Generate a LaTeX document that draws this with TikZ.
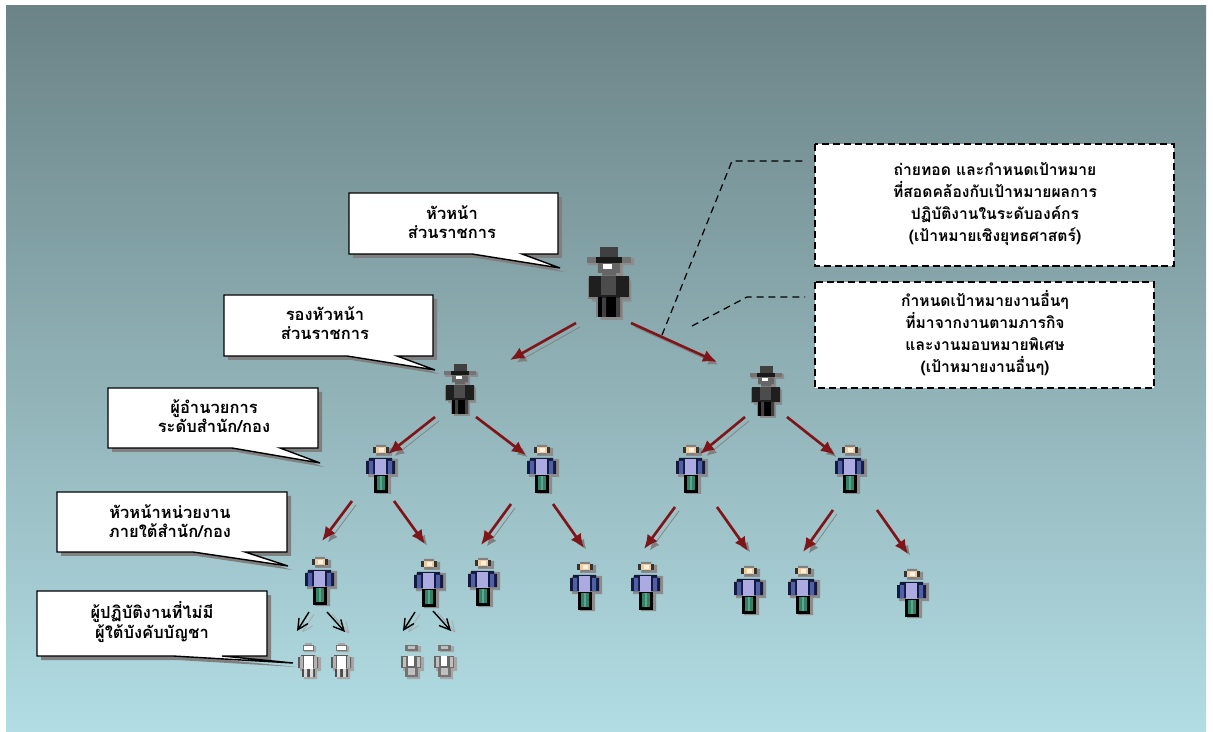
\documentclass[tikz,border=0pt]{standalone}
\usepackage{fontspec}
\newfontfamily\thaifont[Script=Thai]{Loma}
\usetikzlibrary{arrows.meta}
\definecolor{skytop}{HTML}{6B8386}
\definecolor{skybot}{HTML}{B2DDE4}
\definecolor{darkred}{HTML}{7F1519}
\definecolor{shirt}{HTML}{5060A8}
\definecolor{shirtlt}{HTML}{ABABE2}
\definecolor{navy}{HTML}{141A3C}
\definecolor{trouser}{HTML}{2F8468}
\definecolor{skin}{HTML}{EFCD9C}
\tikzset{
  redarrow/.style={draw=darkred, line width=1.5pt, -{Latex[length=8pt,width=7pt]},
    preaction={draw=black!50, transform canvas={shift={(4,4)}}}},
  blackarrow/.style={draw=black, line width=0.8pt, -{Straight Barb[length=6pt,width=6pt]},
    preaction={draw=black!35, transform canvas={shift={(5,2)}}}},
  leader/.style={draw=black, line width=0.7pt, dash pattern=on 4pt off 2.8pt},
  talkline/.style={draw=black, fill=white, line width=0.8pt, line join=miter},
  talkshadow/.style={fill=black!50},
  goalbox/.style={draw=black, fill=white, line width=0.8pt, dash pattern=on 4pt off 2.2pt},
  goaltext/.style={font=\thaifont\bfseries\fontsize{8.9}{12.6}\selectfont, align=center, inner sep=0pt},
  talktext/.style={font=\thaifont\bfseries\fontsize{9.4}{11.2}\selectfont, align=center, inner sep=0pt},
  pics/hatman/.style={code={
    \fill[black!45] (-12,-1) rectangle (16,14) (-6,14) rectangle (10,27) (-5,-12) rectangle (10,-4) (-15,-17) rectangle (18,-12);
    \fill[black!55] (-16,-18) rectangle (16,-13.5);
    \fill[black!90] (-9,-18) rectangle (9,-13.5);
    \fill[black!75] (-6.5,-25) rectangle (6.5,-18);
    \fill[black!60] (-8,-13.5) rectangle (8,-6.5) (-5,-6.5) rectangle (5,-4.5);
    \fill[white] (-4,-12.5) rectangle (2,-9.5);
    \fill[black!50] (-15,-3) rectangle (15,12);
    \fill[black!88] (-14,-4) rectangle (14,11);
    \fill[black!70] (-6,-4) rectangle (5,9);
    \fill[black!50] (-9,11) rectangle (9,25);
    \fill[black] (-8,11) rectangle (8,25);
    \fill[black!75] (-5,11) rectangle (-2,25) (5,11) rectangle (8,25);
  }},
  pics/staffman/.style={code={
    \fill[black!45] (-12,-9) rectangle (18,9) (-4,9) rectangle (11,26) (-4,-20) rectangle (12,-12);
    \fill[black!80] (-7,-21) rectangle (9,-15);
    \fill[black!50] (-4,-23) rectangle (6,-21) (-3,-15) rectangle (5,-13);
    \fill[skin] (-4,-21) rectangle (6,-15);
    \fill[white!70!skin] (-1,-20) rectangle (4,-16);
    \fill[navy] (-14,-7) rectangle (15,6) (-11,-10) rectangle (12,-7);
    \fill[shirt] (-11,-7) rectangle (-7,6) (8,-7) rectangle (12,6);
    \fill[shirtlt] (-5,-9) rectangle (6,7);
    \fill[black] (-6,7) rectangle (8,25);
    \fill[trouser] (-3,8) rectangle (5,22);
    \fill[trouser!75!white] (0,8) rectangle (2,22);
  }},
  pics/clerkman/.style={code={
    \fill[black!35] (-8,-3) rectangle (13,11) (-4,11) rectangle (9,19) (-4,-14) rectangle (8,-8);
    \fill[black!55] (-5,-15) rectangle (6,-9);
    \fill[black!35] (-3,-17) rectangle (4,-15);
    \fill[white] (-4,-14) rectangle (5,-10);
    \fill[black!65] (-10,-3) rectangle (10,8) (-7,-5) rectangle (7,-3);
    \fill[white] (-4,-4) rectangle (5,9);
    \fill[black!30] (-8,-4) rectangle (-5,8) (6,-4) rectangle (9,8);
    \fill[black!70] (-6,9) rectangle (7,17);
    \fill[white!85!black] (-4,9) rectangle (-1,17) (2,9) rectangle (5,17);
  }},
  pics/greyclerk/.style={code={
    \fill[black!35] (-8,-3) rectangle (13,11) (-4,11) rectangle (9,19) (-4,-14) rectangle (10,-8);
    \fill[black!55] (-6,-15) rectangle (7,-9);
    \fill[black!25] (-3,-14) rectangle (4,-11);
    \fill[black!60] (-10,-4) rectangle (10,8);
    \fill[black!25] (-8,-3) rectangle (-5,7) (6,-3) rectangle (9,7);
    \fill[white] (-3,-4) rectangle (3,6);
    \fill[black!55] (-6,8) rectangle (7,17);
    \fill[black!25] (-3,8) rectangle (4,15);
  }},
}
\newcommand{\talkshape}[8]{
  \fill[talkshadow, shift={(4,4)}] (#1,#2) -- (#3,#2) -- (#3,#4) -- (#6,#4) -- (#7,#8) -- (#5,#4) -- (#1,#4) -- cycle;
  \draw[talkline] (#1,#2) -- (#3,#2) -- (#3,#4) -- (#6,#4) -- (#7,#8) -- (#5,#4) -- (#1,#4) -- cycle;
}
\begin{document}
\begin{tikzpicture}[x=0.02cm, y=-0.02cm]
  \useasboundingbox (0,0) rectangle (1213,732);
  \fill[top color=skytop, bottom color=skybot] (6,6) rectangle (1206,732);

  % callouts on the left
  \talkshape{349}{193}{558}{254}{472}{522}{560}{268}
  \node[talktext] (chief) at (452,222) {หัวหน้า\\ส่วนราชการ};
  \talkshape{224}{295}{433}{356}{347}{397}{435}{370}
  \node[talktext] (deputy) at (325,323) {รองหัวหน้า\\ส่วนราชการ};
  \talkshape{108}{388}{318}{448}{232}{280}{320}{463}
  \node[talktext] (director) at (214,416) {ผู้อำนวยการ\\ระดับสำนัก/กอง};
  \talkshape{57}{492}{287}{552}{193}{245}{288}{566}
  \node[talktext] (unithead) at (170,521) {หัวหน้าหน่วยงาน\\ภายใต้สำนัก/กอง};
  \talkshape{37}{591}{267}{656}{173}{222}{293}{663}
  \node[talktext] (worker) at (152,622) {ผู้ปฏิบัติงานที่ไม่มี\\ผู้ใต้บังคับบัญชา};

  % goal boxes
  \draw[goalbox] (815,144) rectangle (1174,266);
  \node[goaltext] (goalA) at (995,204) {ถ่ายทอด และกำหนดเป้าหมาย\\ที่สอดคล้องกับเป้าหมายผลการ\\ปฏิบัติงานในระดับองค์กร\\(เป้าหมายเชิงยุทธศาสตร์)};
  \draw[goalbox] (815,282) rectangle (1154,388);
  \node[goaltext] (goalB) at (985,333) {กำหนดเป้าหมายงานอื่นๆ\\ที่มาจากงานตามภารกิจ\\และงานมอบหมายพิเศษ\\(เป้าหมายงานอื่นๆ)};

  \coordinate (leadA) at (662,335);
  \coordinate (bendA) at (732,161);
  \coordinate (endA) at (805,161);
  \coordinate (leadB) at (692,326);
  \coordinate (bendB) at (747,297);
  \coordinate (endB) at (805,297);
  \draw[leader] (leadA) -- (bendA) -- (endA);
  \draw[leader] (leadB) -- (bendB) -- (endB);

  % people
  \pic[scale=1.4] at (609,282) {hatman};
  \pic at (460,389) {hatman};
  \pic at (766,391) {hatman};
  \pic at (380,468) {staffman};
  \pic at (541,468) {staffman};
  \pic at (690,468) {staffman};
  \pic at (849,468) {staffman};
  \pic at (319,580) {staffman};
  \pic at (428,582) {staffman};
  \pic at (482,581) {staffman};
  \pic at (584,585) {staffman};
  \pic at (645,585) {staffman};
  \pic at (748,589) {staffman};
  \pic at (802,589) {staffman};
  \pic at (911,592) {staffman};
  \pic at (308,660) {clerkman};
  \pic at (341,660) {clerkman};
  \pic at (411,660) {greyclerk};
  \pic at (444,660) {greyclerk};

  % arrows
  \coordinate (a1) at (576,323); \coordinate (b1) at (510,360);
  \coordinate (a2) at (631,323); \coordinate (b2) at (717,362);
  \coordinate (a3) at (435,417); \coordinate (b3) at (388,454);
  \coordinate (a4) at (476,417); \coordinate (b4) at (526,455);
  \coordinate (a5) at (745,417); \coordinate (b5) at (700,454);
  \coordinate (a6) at (787,417); \coordinate (b6) at (835,455);
  \coordinate (a7) at (352,501); \coordinate (b7) at (322,541);
  \coordinate (a8) at (394,501); \coordinate (b8) at (425,544);
  \coordinate (a9) at (511,504); \coordinate (b9) at (481,545);
  \coordinate (a10) at (553,504); \coordinate (b10) at (584,548);
  \coordinate (a11) at (675,507); \coordinate (b11) at (644,549);
  \coordinate (a12) at (717,507); \coordinate (b12) at (748,551);
  \coordinate (a13) at (833,510); \coordinate (b13) at (803,552);
  \coordinate (a14) at (877,510); \coordinate (b14) at (908,554);
  \draw[redarrow] (a1) -- (b1);
  \draw[redarrow] (a2) -- (b2);
  \draw[redarrow] (a3) -- (b3);
  \draw[redarrow] (a4) -- (b4);
  \draw[redarrow] (a5) -- (b5);
  \draw[redarrow] (a6) -- (b6);
  \draw[redarrow] (a7) -- (b7);
  \draw[redarrow] (a8) -- (b8);
  \draw[redarrow] (a9) -- (b9);
  \draw[redarrow] (a10) -- (b10);
  \draw[redarrow] (a11) -- (b11);
  \draw[redarrow] (a12) -- (b12);
  \draw[redarrow] (a13) -- (b13);
  \draw[redarrow] (a14) -- (b14);
  \coordinate (c1) at (309,612); \coordinate (d1) at (297,631);
  \coordinate (c2) at (327,612); \coordinate (d2) at (345,632);
  \coordinate (c3) at (415,612); \coordinate (d3) at (403,631);
  \coordinate (c4) at (433,611); \coordinate (d4) at (451,631);
  \draw[blackarrow] (c1) -- (d1);
  \draw[blackarrow] (c2) -- (d2);
  \draw[blackarrow] (c3) -- (d3);
  \draw[blackarrow] (c4) -- (d4);
\end{tikzpicture}
\end{document}
